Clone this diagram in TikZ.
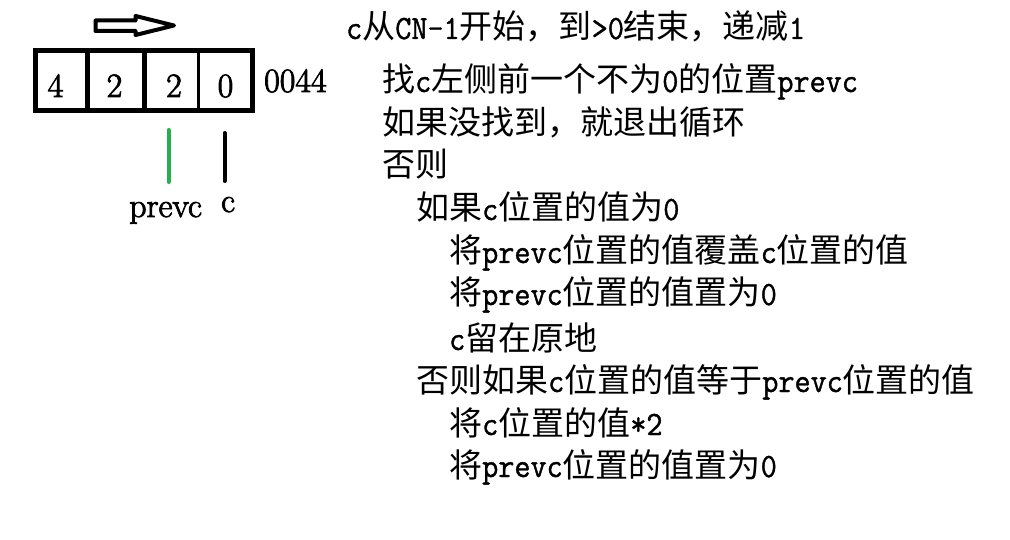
\documentclass[tikz,border=0pt]{standalone}
\usepackage{fontspec}
\newfontfamily\cjk{Noto Sans CJK SC}
\newfontfamily\hwfont{Latin Modern Mono}[FakeStretch=0.92,FakeBold=1.2]
\newfontfamily\digfont{Latin Modern Roman}[FakeBold=2.5]
\newcommand\hl[1]{{\hwfont\fontsize{34}{38}\selectfont #1}}
\definecolor{pgreen}{HTML}{22B14C}
\tikzset{
  txt/.style={anchor=base west, inner sep=0pt, font={\cjk\fontsize{33}{38}\selectfont}},
  digit/.style={anchor=base, inner sep=0pt, font={\digfont\fontsize{34}{40}\selectfont}},
  lbl/.style={anchor=base west, inner sep=0pt, font={\digfont\fontsize{34}{40}\selectfont}},
  boxline/.style={line width=5pt},
  ptr/.style={line width=4pt, line cap=round},
  hollow/.style={line width=4pt, line join=round}
}
\begin{document}
\begin{tikzpicture}[x=1pt,y=-1pt]
\useasboundingbox (0,0) rectangle (1010,540);
% direction arrow
\draw[hollow] (95.5,20.5) -- (135.5,20.5) -- (135.5,16) -- (174,25.5) -- (135.5,35) -- (135.5,31) -- (95.5,31) -- cycle;
% array box
\draw[boxline] (35.8,50.5) rectangle (252.5,110.7);
\draw[boxline] (87.5,50.5) -- (87.5,110.7);
\draw[boxline] (144.8,50.5) -- (144.8,110.7);
\draw[line width=3.5pt] (198.5,53) -- (198.5,110.7);
\node[digit] (d1) at (55.5,97) {4};
\node[digit] (d2) at (114.5,97) {2};
\node[digit] (d3) at (174,97) {2};
\node[digit] (d4) at (225.5,97) {0};
\node[lbl] (res) at (264,92) {0044};
% pointers
\node[lbl] (lp) at (129,217) {prevc};
\node[lbl] (lc) at (221,212) {c};
\coordinate (g1) at (168.5,130);
\coordinate (g2) at (168.5,182);
\coordinate (k1) at (224.5,133);
\coordinate (k2) at (224.5,181);
\draw[ptr, pgreen] (g1) -- (g2);
\draw[ptr, black] (k1) -- (k2);
% text
\node[txt] (t1) at (346,39) {\hl{c}从\hl{CN-1}开始，到\hl{>0}结束，递减\hl{1}};
\node[txt] (t2) at (382,92) {找\hl{c}左侧前一个不为\hl{0}的位置\hl{prevc}};
\node[txt] (t3) at (382,135) {如果没找到，就退出循环};
\node[txt] (t4) at (382,177) {否则};
\node[txt] (t5) at (416,220) {如果\hl{c}位置的值为\hl{0}};
\node[txt] (t6) at (449,263) {将\hl{prevc}位置的值覆盖\hl{c}位置的值};
\node[txt] (t7) at (449,305) {将\hl{prevc}位置的值置为\hl{0}};
\node[txt] (t8) at (449,350) {\hl{c}留在原地};
\node[txt] (t9) at (416,392) {否则如果\hl{c}位置的值等于\hl{prevc}位置的值};
\node[txt] (t10) at (449,435) {将\hl{c}位置的值\hl{*2}};
\node[txt] (t11) at (449,477) {将\hl{prevc}位置的值置为\hl{0}};
\end{tikzpicture}
\end{document}
